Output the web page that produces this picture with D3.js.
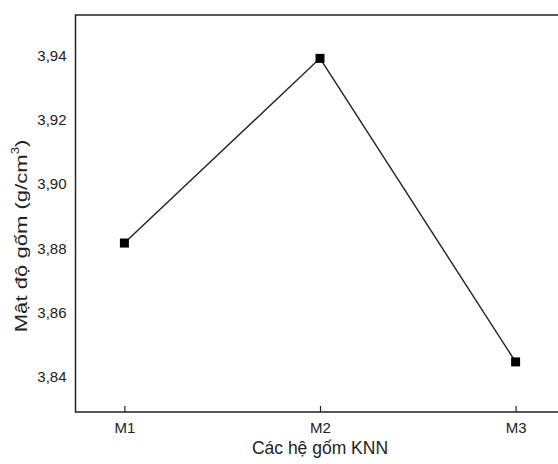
<!DOCTYPE html>
<html><head><meta charset="utf-8">
<script src="https://cdn.jsdelivr.net/npm/d3@7"></script>
<style>body{margin:0;background:#fff}svg{display:block}text{font-family:"Liberation Sans",Arial,sans-serif;fill:#222}</style>
</head><body><svg id="c" width="558" height="464"></svg>
<script>
const categories = ["M1","M2","M3"];
const values = [3.8816, 3.9391, 3.8446];
const yTicks = [3.84,3.86,3.88,3.90,3.92,3.94];
const xTitle = "Các hệ gốm KNN";
const yTitle = "Mật độ gốm (g/cm";

const svg = d3.select("#c");
const L = 75.5, T = 15, B = 412, R = 564.5;
const x = d3.scalePoint().domain(categories).range([L, R]).padding(0.25);
const y = d3.scaleLinear().domain([3.829, 3.9526]).range([B, T]);

// frame
svg.append("path").attr("d", `M${R},${T}H${L}V${B}H${R}`).attr("fill","none").attr("stroke","#222").attr("stroke-width",1.5);

// x axis
const xa = svg.append("g").attr("transform",`translate(0,${B})`)
  .call(d3.axisBottom(x).tickSize(-6).tickPadding(10));
xa.select(".domain").remove();
xa.selectAll("line").attr("stroke","#222").attr("stroke-width",1.2);
xa.selectAll("text").attr("font-size",15).attr("fill","#222");

// y axis
const ya = svg.append("g").attr("transform",`translate(${L},0)`)
  .call(d3.axisLeft(y).tickValues(yTicks).tickSize(0).tickPadding(9).tickFormat(d=>d3.format(".2f")(d).replace(".",",")));
ya.select(".domain").remove();
ya.selectAll("text").attr("font-size",15).attr("fill","#222");

// line
svg.append("path").datum(values)
  .attr("d", d3.line().x((d,i)=>x(categories[i])).y(d=>y(d)))
  .attr("fill","none").attr("stroke","#222").attr("stroke-width",1.4);
svg.selectAll("rect.pt").data(values).enter().append("rect").attr("class","pt")
  .attr("x",(d,i)=>x(categories[i])-4.5).attr("y",d=>y(d)-4.5)
  .attr("width",9).attr("height",9).attr("fill","#000");

// titles
svg.append("text").attr("x",x("M2")).attr("y",454).attr("text-anchor","middle").attr("font-size",17.5).text(xTitle);
const yt = svg.append("text").attr("transform",`translate(27,236) rotate(-90) scale(1.3,1)`).attr("text-anchor","middle").attr("font-size",17);
yt.append("tspan").text(yTitle);
yt.append("tspan").attr("font-size",10).attr("dy",-8).text("3");
yt.append("tspan").attr("dy",8).text(")");
</script></body></html>
